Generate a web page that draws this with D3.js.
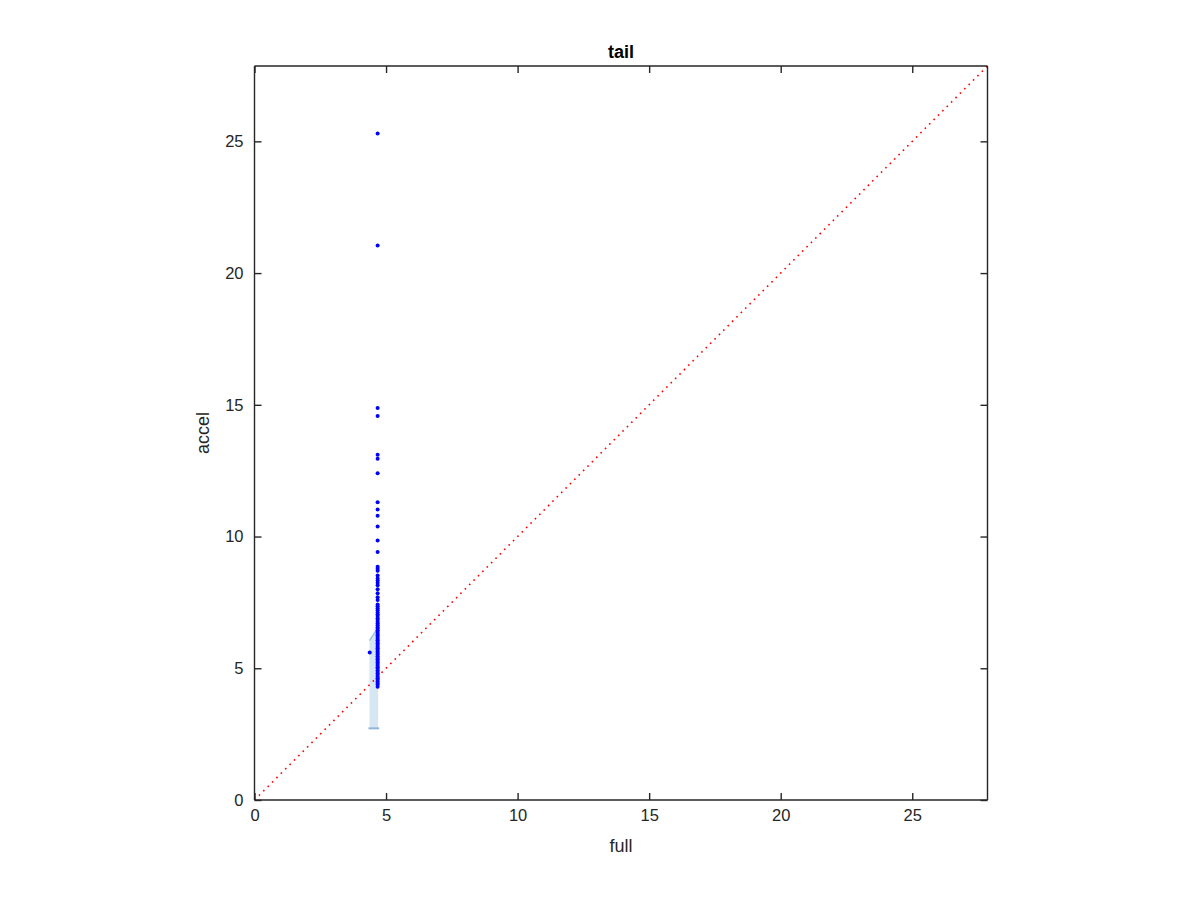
<!DOCTYPE html>
<html>
<head>
<meta charset="utf-8">
<script src="https://cdn.jsdelivr.net/npm/d3@7"></script>
<style>
  body { margin: 0; background: #fff; }
  svg text { font-family: "Liberation Sans", Arial, Helvetica, sans-serif; fill: #262626; }
</style>
</head>
<body>
<svg id="chart" width="1200" height="900"></svg>
<script>
const title = "tail";
const xLabel = "full";
const yLabel = "accel";
const axisMax = 27.86;
const tickValues = [0, 5, 10, 15, 20, 25];

// main column of points (full ≈ 4.68)
const colX = 4.68;
const colY = [25.3, 21.05, 14.88, 14.58, 13.1, 12.95, 12.4, 11.3, 11.03, 10.79, 10.38, 9.85, 9.41,
  8.85, 8.78, 8.7, 8.52, 8.41, 8.33, 8.25, 8.15, 8.0, 7.85, 7.7, 7.59, 7.42, 7.35, 7.28, 7.2,
  7.12, 7.05, 6.98, 6.9, 6.83, 6.76, 6.7, 6.63, 6.56, 6.5, 6.44, 6.38, 6.31, 6.25, 6.19, 6.12,
  6.06, 6.0, 5.94, 5.88, 5.82, 5.76, 5.7, 5.64, 5.58, 5.52, 5.46, 5.4, 5.34, 5.28, 5.22, 5.16,
  5.1, 5.04, 4.98, 4.92, 4.86, 4.8, 4.74, 4.68, 4.62, 4.56, 4.5, 4.44, 4.38, 4.3];
// single outlier point
const outX = [4.38];
const outY = [5.6];
// shaded band (polygon corners in data units)
const bandX = [4.37, 4.70, 4.70, 4.37];
const bandY = [2.72, 2.72, 6.55, 6.05];

const svg = d3.select("#chart");
const L = 254.5, R = 987.5, T = 66, B = 800;
const x = d3.scaleLinear().domain([0, axisMax]).range([L, R]);
const y = d3.scaleLinear().domain([0, axisMax]).range([B, T]);

// band
const band = bandX.map((v, i) => [x(v), y(bandY[i])]);
svg.append("path")
  .attr("d", d3.line()(band) + "Z")
  .attr("fill", "#d6e6f3").attr("stroke", "none");
svg.append("line")
  .attr("x1", x(bandX[3])).attr("y1", y(bandY[3]))
  .attr("x2", x(bandX[2])).attr("y2", y(bandY[2]))
  .attr("stroke", "#9cc0de").attr("stroke-width", 1.5);
svg.append("line")
  .attr("x1", x(bandX[0]) - 1).attr("y1", y(bandY[0]))
  .attr("x2", x(bandX[1]) + 1).attr("y2", y(bandY[1]))
  .attr("stroke", "#8fb5d8").attr("stroke-width", 2);

// diagonal reference line
svg.append("line")
  .attr("x1", x(0)).attr("y1", y(0))
  .attr("x2", x(axisMax)).attr("y2", y(axisMax))
  .attr("stroke", "#ff0000").attr("stroke-width", 1.6)
  .attr("stroke-dasharray", "1.6,4.6");

// points
const pts = colY.map(v => [colX, v]).concat(outX.map((v, i) => [v, outY[i]]));
svg.selectAll("circle.pt").data(pts).enter().append("circle")
  .attr("class", "pt")
  .attr("cx", d => x(d[0])).attr("cy", d => y(d[1]))
  .attr("r", 2).attr("fill", "#0000ff");

// axes (box with inward ticks)
const tl = 7;
const gB = svg.append("g").attr("transform", `translate(0,${B})`)
  .call(d3.axisBottom(x).tickValues(tickValues).tickSize(-tl).tickPadding(9).tickFormat(d3.format("d")));
const gT = svg.append("g").attr("transform", `translate(0,${T})`)
  .call(d3.axisTop(x).tickValues(tickValues).tickSize(-tl).tickFormat(""));
const gL = svg.append("g").attr("transform", `translate(${L},0)`)
  .call(d3.axisLeft(y).tickValues(tickValues).tickSize(-tl).tickPadding(11).tickFormat(d3.format("d")));
const gRt = svg.append("g").attr("transform", `translate(${R},0)`)
  .call(d3.axisRight(y).tickValues(tickValues).tickSize(-tl).tickFormat(""));
[gB, gT, gL, gRt].forEach(g => {
  g.attr("font-size", 16.5);
  g.select(".domain").attr("stroke", "#262626").attr("stroke-width", 1.4);
  g.selectAll(".tick line").attr("stroke", "#262626").attr("stroke-width", 1.4);
  g.selectAll(".tick text").attr("font-size", 16.5).attr("fill", "#262626")
    .style("font-family", '"Liberation Sans", Arial, sans-serif');
});
gB.select(".domain").attr("d", `M${L},0H${R}`);
gT.select(".domain").attr("d", `M${L},0H${R}`);
gL.select(".domain").attr("d", `M0,${T}V${B}`);
gRt.select(".domain").attr("d", `M0,${T}V${B}`);

// labels
svg.append("text").attr("x", (L + R) / 2).attr("y", 58)
  .attr("text-anchor", "middle").attr("font-size", 18).attr("font-weight", "bold")
  .style("fill", "#000").text(title);
svg.append("text").attr("x", (L + R) / 2).attr("y", 852)
  .attr("text-anchor", "middle").attr("font-size", 18).text(xLabel);
svg.append("text").attr("transform", `translate(209,${(T + B) / 2}) rotate(-90)`)
  .attr("text-anchor", "middle").attr("font-size", 18).text(yLabel);
</script>
</body>
</html>
